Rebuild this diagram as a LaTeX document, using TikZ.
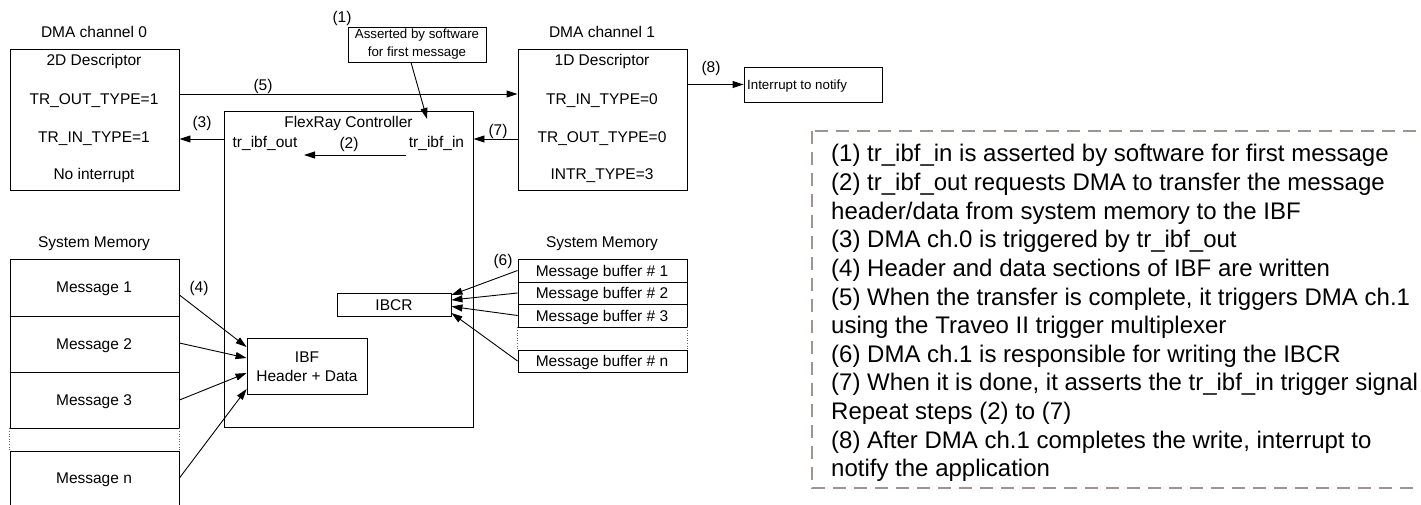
\documentclass[tikz,border=0pt]{standalone}
\usepackage{fontspec}
\setmainfont{Liberation Sans}
\usetikzlibrary{arrows.meta}
\definecolor{legendgray}{RGB}{158,148,146}
\newcommand\diagfont{\fontsize{15.5}{17}\selectfont}
\newcommand\notefont{\fontsize{13.3}{15}\selectfont}
\newcommand\legendfont{\fontsize{24}{28}\selectfont}

\begin{document}
\begin{tikzpicture}[x=1pt,y=-1pt,
  box/.style={draw, line width=0.9pt, inner sep=0pt},
  lbl/.style={inner sep=0pt, font=\diagfont, anchor=base},
  notelbl/.style={inner sep=0pt, font=\notefont, anchor=base},
  leg/.style={inner sep=0pt, font=\legendfont, anchor=base west},
  arr/.style={line width=0.9pt, -{Triangle[length=11pt,width=7pt]}},
  gapline/.style={dotted, line width=0.6pt, black!60},
  legendbox/.style={draw=legendgray, line width=2.7pt, dash pattern=on 13pt off 8pt}]

\useasboundingbox (0,0) rectangle (1421,505);
\clip (0,0) rectangle (1421,505);

% ---------------- DMA channel 0 ----------------
\node[lbl] (ch0) at (94,37.6) {DMA channel 0};
\node[box, minimum width=169pt, minimum height=141pt] (d0) at (94.5,119.5) {};
\node[lbl] (d0a) at (94,65.6) {2D Descriptor};
\node[lbl] (d0b) at (94,104.6) {TR\_OUT\_TYPE=1};
\node[lbl] (d0c) at (94,142.6) {TR\_IN\_TYPE=1};
\node[lbl] (d0d) at (94,179.6) {No interrupt};

% ---------------- DMA channel 1 ----------------
\node[lbl] (ch1) at (602,37.6) {DMA channel 1};
\node[box, minimum width=169pt, minimum height=141pt] (d1) at (602.5,119.5) {};
\node[lbl] (d1a) at (602,65.6) {1D Descriptor};
\node[lbl] (d1b) at (602,104.6) {TR\_IN\_TYPE=0};
\node[lbl] (d1c) at (602,142.6) {TR\_OUT\_TYPE=0};
\node[lbl] (d1d) at (602,179.6) {INTR\_TYPE=3};

% ---------------- software assertion note ----------------
\node[lbl] (n1) at (342,22.6) {(1)};
\node[box, minimum width=138pt, minimum height=35pt] (note) at (417,44.5) {};
\node[notelbl] (notea) at (417,38.8) {Asserted by software};
\node[notelbl] (noteb) at (417,56.8) {for first message};

% ---------------- interrupt ----------------
\node[box, minimum width=138pt, minimum height=35pt] (intr) at (813,84.5) {};
\node[notelbl, anchor=base west] (intrt) at (747,89.2) {Interrupt to notify};
\node[lbl] (n8) at (711,72.6) {(8)};

% ---------------- FlexRay controller ----------------
\node[box, minimum width=249pt, minimum height=316pt] (frc) at (348.5,269) {};
\node[lbl] (frct) at (348.5,127.6) {FlexRay Controller};
\node[lbl] (tout) at (265,147.6) {tr\_ibf\_out};
\node[lbl] (tin) at (436.5,147.6) {tr\_ibf\_in};
\node[lbl] (n2) at (349,149) {(2)};
\node[box, minimum width=120pt, minimum height=56pt] (ibf) at (307,366) {};
\node[lbl] (ibfa) at (307,362.6) {IBF};
\node[lbl] (ibfb) at (307,381.6) {Header + Data};
\node[box, minimum width=114pt, minimum height=23pt] (ibcr) at (394,304.5) {};
\node[lbl] (ibcrt) at (394,310) {IBCR};

% ---------------- system memory (messages) ----------------
\node[lbl] (sm0) at (94,247.6) {System Memory};
\node[box, minimum width=169pt, minimum height=57pt] (msg1) at (94.5,287.5) {};
\node[box, minimum width=169pt, minimum height=56pt] (msg2) at (94.5,344) {};
\node[box, minimum width=169pt, minimum height=56pt] (msg3) at (94.5,400) {};
\node[box, minimum width=169pt, minimum height=79pt] (msgn) at (94.5,490.5) {};
\node[lbl] (m1t) at (94,292.6) {Message 1};
\node[lbl] (m2t) at (94,349.6) {Message 2};
\node[lbl] (m3t) at (94,405.6) {Message 3};
\node[lbl] (mnt) at (94,483.6) {Message n};
\draw[gapline] (msg3.south west) -- (msgn.north west);
\draw[gapline] (msg3.south east) -- (msgn.north east);

% ---------------- system memory (message buffers) ----------------
\node[lbl] (sm1) at (602,247.6) {System Memory};
\node[box, minimum width=169pt, minimum height=23pt] (mb1) at (602.5,270.5) {};
\node[box, minimum width=169pt, minimum height=22pt] (mb2) at (602.5,293) {};
\node[box, minimum width=169pt, minimum height=23pt] (mb3) at (602.5,315.5) {};
\node[box, minimum width=169pt, minimum height=22pt] (mbn) at (602.5,361) {};
\node[lbl] (mb1t) at (602,276) {Message buffer \# 1};
\node[lbl] (mb2t) at (602,298.6) {Message buffer \# 2};
\node[lbl] (mb3t) at (602,321) {Message buffer \# 3};
\node[lbl] (mbnt) at (602,366.6) {Message buffer \# n};
\draw[gapline] (mb3.south west) -- (mbn.north west);
\draw[gapline] (mb3.south east) -- (mbn.north east);

% ---------------- connectors ----------------
% (1) software trigger
\coordinate (p1) at (427,119);
\draw[arr] ([xshift=-6pt]note.south) -- (p1);
% (2) internal request
\coordinate (p2s) at (406,155);
\coordinate (p2e) at (304,155);
\draw[arr] (p2s) -- (p2e);
% (3) tr_ibf_out to DMA ch.0
\coordinate (p3) at ([yshift=-19.5pt]d0.east);
\draw[arr] (frc.west |- p3) -- (p3);
\node[lbl] (n3) at (202,128) {(3)};
% (5) DMA ch.0 to DMA ch.1
\draw[arr] ([yshift=25.5pt]d0.east) -- ([yshift=25.5pt]d1.west);
\node[lbl] (n5) at (263,90.6) {(5)};
% (7) DMA ch.1 to tr_ibf_in
\coordinate (p7) at ([yshift=-19.5pt]d1.west);
\draw[arr] (p7) -- (frc.east |- p7);
\node[lbl] (n7) at (498,135.6) {(7)};
% (8) interrupt
\draw[arr] (intr.west -| d1.east) -- (intr.west);
% (4) messages into IBF
\draw[arr] ([yshift=-7.5pt]msg1.east) -- ([yshift=19pt]ibf.west);
\draw[arr] ([yshift=1pt]msg2.east) -- ([yshift=8pt]ibf.west);
\draw[arr] (msg3.east) -- ([yshift=-7pt]ibf.west);
\draw[arr] ([yshift=12.5pt]msgn.east) -- ([yshift=-23pt]ibf.west);
\node[lbl] (n4) at (199,292.6) {(4)};
% (6) message buffers into IBCR
\draw[arr] (mb1.west) -- ([yshift=9.5pt]ibcr.east);
\draw[arr] (mb2.west) -- ([yshift=4.5pt]ibcr.east);
\draw[arr] (mb3.west) -- ([yshift=-2pt]ibcr.east);
\draw[arr] (mbn.west) -- ([yshift=-8.5pt]ibcr.east);
\node[lbl] (n6) at (503,265.6) {(6)};

% ---------------- legend ----------------
\draw[legendbox] (812,131) rectangle (1450,488);
\node[leg] (leg1) at (831,162) {(1) tr\_ibf\_in is asserted by software for first message};
\node[leg] (leg2) at (831,190.6) {(2) tr\_ibf\_out requests DMA to transfer the message};
\node[leg] (leg3) at (831,219.2) {header/data from system memory to the IBF};
\node[leg] (leg4) at (831,247.8) {(3) DMA ch.0 is triggered by tr\_ibf\_out};
\node[leg] (leg5) at (831,276.4) {(4) Header and data sections of IBF are written};
\node[leg] (leg6) at (831,305) {(5) When the transfer is complete, it triggers DMA ch.1};
\node[leg] (leg7) at (831,333.6) {using the Traveo II trigger multiplexer};
\node[leg] (leg8) at (831,362.2) {(6) DMA ch.1 is responsible for writing the IBCR};
\node[leg] (leg9) at (831,390.8) {(7) When it is done, it asserts the tr\_ibf\_in trigger signal};
\node[leg] (leg10) at (831,419.4) {Repeat steps (2) to (7)};
\node[leg] (leg11) at (831,448) {(8) After DMA ch.1 completes the write, interrupt to};
\node[leg] (leg12) at (831,476.6) {notify the application};
\end{tikzpicture}
\end{document}
